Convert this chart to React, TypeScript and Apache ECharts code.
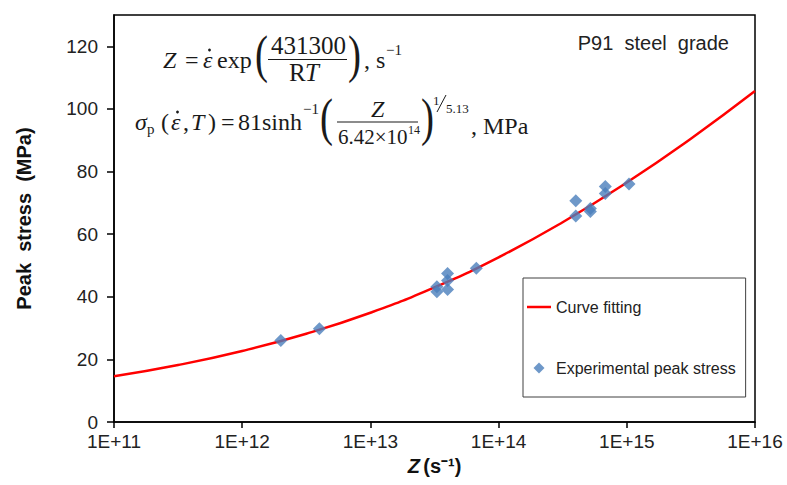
import React, { useEffect, useRef } from "react";
import * as echarts from "echarts";

// ---- data ----
const xTickExponents = [11, 12, 13, 14, 15, 16];
const yTickValues = [0, 20, 40, 60, 80, 100, 120];

const curveZ = [1e11, 3.16e11, 1e12, 3.16e12, 1e13, 3.16e13, 1e14, 3.16e14, 1e15, 3.16e15, 1e16];
const curveStress = [14.6, 18.2, 22.7, 28.2, 34.9, 43.0, 52.6, 63.8, 76.5, 90.5, 105.7];

const expZ = [2e12, 4e12, 3.3e13, 3.3e13, 4e13, 4e13, 4e13, 6.7e13, 4e14, 4e14, 5.2e14, 5.2e14, 6.8e14, 6.8e14, 1.04e15];
const expStress = [26.0, 29.8, 41.6, 43.2, 42.3, 45.2, 47.4, 49.1, 70.7, 65.8, 67.2, 68.2, 75.2, 73.0, 76.0];

const seriesNames = ["Curve fitting", "Experimental peak stress"];

const serif = "Liberation Serif";
const sans = "Liberation Sans";
const ink = "#1a1a1a";

function tx(text: string, x: number, y: number, size = 24, fontStyle = "normal", extra: any = {}) {
  return {
    type: "text",
    x,
    y,
    silent: true,
    ...extra,
    style: {
      text,
      fontFamily: serif,
      fontSize: size,
      fontStyle,
      fill: ink,
      align: "left",
      verticalAlign: "middle",
    },
  };
}

function paren(text: string, x: number, y: number) {
  return tx(text, x, y, 52, "normal", { scaleX: 0.75 });
}

function bar(x1: number, x2: number, y: number) {
  return {
    type: "line",
    silent: true,
    shape: { x1, y1: y, x2, y2: y },
    style: { stroke: ink, lineWidth: 1.2 },
  };
}

function dot(cx: number, cy: number) {
  return {
    type: "circle",
    silent: true,
    shape: { cx, cy, r: 1.4 },
    style: { fill: ink },
  };
}

export default function App() {
  const ref = useRef<HTMLDivElement>(null);

  useEffect(() => {
    if (!ref.current) return;
    const chart = echarts.init(ref.current, undefined, { renderer: "svg" });

    const curveData = curveZ.map((z, i) => [z, curveStress[i]]);
    const expData = expZ.map((z, i) => [z, expStress[i]]);

    const formula: any[] = [
      // line 1: Z = ε̇ exp(431300 / RT), s^-1
      tx("Z", 163, 60, 24, "italic"),
      tx("=", 185, 60),
      tx("ε", 203, 60, 24, "italic"),
      dot(209.5, 50),
      tx("exp", 217, 60),
      paren("(", 255, 54),
      tx("431300", 271, 45, 25),
      bar(268, 347, 59.5),
      tx("R", 289, 72, 25),
      tx("T", 305, 72, 25, "italic"),
      paren(")", 348, 54),
      tx(", s", 364, 60),
      tx("−1", 386, 50, 15),
      // line 2
      tx("σ", 135, 122, 24, "italic"),
      tx("p", 147, 129, 15),
      tx("(", 161, 122),
      tx("ε", 171, 122, 24, "italic"),
      dot(177.5, 112),
      tx(",", 183, 122),
      tx("T", 191, 122, 24, "italic"),
      tx(")", 208, 122),
      tx("=", 221, 122),
      tx("81sinh", 238, 122),
      tx("−1", 303, 109, 15),
      paren("(", 320, 117),
      tx("Z", 371, 109, 24, "italic"),
      bar(337, 418, 122),
      tx("6.42×10", 338, 137, 21),
      tx("14", 408, 130, 12),
      paren(")", 421, 117),
      tx("1", 433, 100, 13),
      {
        type: "line",
        silent: true,
        shape: { x1: 437, y1: 112, x2: 446, y2: 95 },
        style: { stroke: ink, lineWidth: 1 },
      },
      tx("5.13", 446, 108, 13),
      tx(", MPa", 471, 126),
      // label top right
      {
        type: "text",
        x: 729,
        y: 43,
        silent: true,
        style: {
          text: "P91  steel  grade",
          fontFamily: sans,
          fontSize: 20,
          fill: "#222",
          align: "right",
          verticalAlign: "middle",
        },
      },
    ];

    chart.setOption({
      animation: false,
      backgroundColor: "#fff",
      grid: {
        left: 114,
        right: 32,
        top: 15,
        bottom: 63,
        show: true,
        borderColor: "#000",
        borderWidth: 1.5,
        containLabel: false,
      },
      legend: {
        orient: "vertical",
        left: 523,
        top: 278,
        data: [
          { name: seriesNames[0], icon: "path://M0,0 H24 V2.5 H0 Z" },
          { name: seriesNames[1], icon: "path://M5,0 L10,5 L5,10 L0,5 Z" },
        ],
        itemWidth: 24,
        itemHeight: 11,
        itemGap: 45,
        symbolKeepAspect: true,
        padding: [21, 10, 21, 4],
        borderColor: "#404040",
        borderWidth: 1,
        backgroundColor: "#fff",
        textStyle: { fontFamily: sans, fontSize: 16, color: "#222" },
      },
      xAxis: {
        type: "log",
        logBase: 10,
        min: 1e11,
        max: 1e16,
        name: "{i|Z} {b|(s⁻¹)}",
        nameLocation: "middle",
        nameGap: 34,
        nameTextStyle: {
          rich: {
            i: { fontFamily: sans, fontSize: 20, fontWeight: "bold", fontStyle: "italic", color: "#111" },
            b: { fontFamily: sans, fontSize: 20, fontWeight: "bold", color: "#111" },
          },
        },
        axisLine: { show: true, lineStyle: { color: "#000", width: 1.5 } },
        axisTick: { show: true, inside: false, length: 6, lineStyle: { color: "#000", width: 1.5 } },
        minorTick: { show: false },
        splitLine: { show: false },
        axisLabel: {
          fontFamily: sans,
          fontSize: 19,
          color: "#222",
          margin: 10,
          formatter: (v: number) => {
            const e = Math.round(Math.log10(v));
            return xTickExponents.includes(e) ? "1E+" + e : "";
          },
        },
      },
      yAxis: {
        type: "value",
        min: 0,
        max: 130,
        interval: 20,
        name: "Peak  stress  (MPa)",
        nameLocation: "middle",
        nameGap: 80,
        nameTextStyle: { fontFamily: sans, fontSize: 20, fontWeight: "bold", color: "#111" },
        axisLine: { show: true, lineStyle: { color: "#000", width: 1.5 } },
        axisTick: {
          show: true,
          inside: false,
          length: 7,
          customValues: yTickValues,
          lineStyle: { color: "#000", width: 1.5 },
        },
        splitLine: { show: false },
        axisLabel: {
          fontFamily: sans,
          fontSize: 19,
          color: "#222",
          margin: 16,
          customValues: yTickValues,
          formatter: (v: number) => (v > 120 ? "" : String(v)),
        },
      },
      graphic: formula,
      series: [
        {
          name: seriesNames[0],
          type: "line",
          data: curveData,
          smooth: true,
          symbol: "none",
          lineStyle: { color: "#ff0000", width: 2.5 },
          itemStyle: { color: "#ff0000" },
          z: 2,
        },
        {
          name: seriesNames[1],
          type: "scatter",
          data: expData,
          symbol: "diamond",
          symbolSize: 13,
          itemStyle: { color: "#4a7ebb" },
          z: 3,
        },
      ],
    });

    return () => chart.dispose();
  }, []);

  return (
    <div
      ref={ref}
      style={{ position: "fixed", left: 0, top: 0, width: 787, height: 485, background: "#fff" }}
    />
  );
}
